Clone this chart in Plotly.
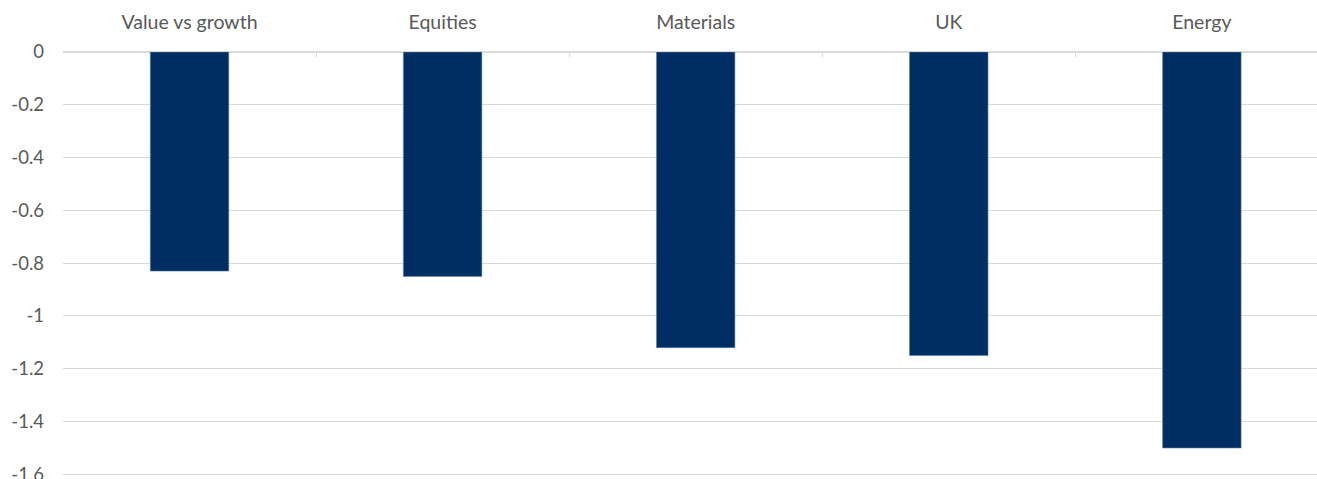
import plotly.graph_objects as go

categories = ["Value vs growth", "Equities", "Materials", "UK", "Energy"]
values = [-0.83, -0.85, -1.12, -1.15, -1.50]
y_ticks = [0, -0.2, -0.4, -0.6, -0.8, -1, -1.2, -1.4, -1.6]
y_tick_labels = ["0", "-0.2", "-0.4", "-0.6", "-0.8", "-1", "-1.2", "-1.4", "-1.6"]

fig = go.Figure(go.Bar(
    x=categories, y=values,
    marker=dict(color="#002D62", line=dict(color="#5a7fa8", width=0.6)),
    width=0.31,
))

grid = "#D9D9D9"
fig.update_layout(
    width=1317, height=479,
    margin=dict(l=63, r=0, t=52, b=2, autoexpand=False),
    paper_bgcolor="white", plot_bgcolor="white",
    font=dict(family="Lato, sans-serif", size=19, color="#595959"),
    showlegend=False,
)
fig.update_xaxes(
    side="top", range=[-0.5, 4.455], automargin=False,
    showline=True, linecolor=grid, linewidth=1,
    ticks="inside", tickson="boundaries", ticklen=5, tickcolor=grid,
    showgrid=False, ticklabelstandoff=14, tickfont=dict(size=19.5),
)
fig.update_yaxes(
    range=[-1.61, 0], tickvals=y_ticks, ticktext=y_tick_labels, automargin=False,
    showgrid=True, gridcolor=grid, gridwidth=1,
    zeroline=True, zerolinecolor=grid, zerolinewidth=1,
    showline=False, ticks="", ticklabelstandoff=18, tickfont=dict(size=18.5),
    ticklabeloverflow="allow",
)

fig.write_html(
    "out.html",
    config={"displayModeBar": False},
    post_script="document.body.style.margin='0';document.body.style.overflow='hidden';",
)
